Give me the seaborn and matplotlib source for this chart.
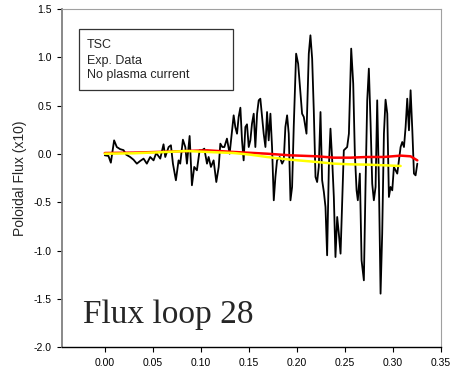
import numpy as np
import pandas as pd
import matplotlib
matplotlib.use("Agg")
import matplotlib.pyplot as plt
import seaborn as sns
from matplotlib.patches import Rectangle

# Experimental data (black)
exp_t = [0.0000, 0.0038, 0.0063, 0.0097, 0.0125, 0.0160, 0.0195, 0.0223, 0.0264, 0.0299,
         0.0334, 0.0369, 0.0404, 0.0438, 0.0473, 0.0508, 0.0536, 0.0578, 0.0612, 0.0630,
         0.0665, 0.0689, 0.0710, 0.0741, 0.0769, 0.0786, 0.0814, 0.0839, 0.0856, 0.0884,
         0.0908, 0.0932, 0.0960, 0.0988, 0.1013, 0.1037, 0.1065, 0.1082, 0.1106, 0.1134,
         0.1162, 0.1187, 0.1204, 0.1225, 0.1246, 0.1273, 0.1301, 0.1326, 0.1343, 0.1360,
         0.1378, 0.1395, 0.1413, 0.1430, 0.1447, 0.1465, 0.1482, 0.1500, 0.1517, 0.1534,
         0.1552, 0.1569, 0.1587, 0.1604, 0.1621, 0.1639, 0.1656, 0.1674, 0.1691, 0.1708,
         0.1726, 0.1743, 0.1761, 0.1778, 0.1795, 0.1823, 0.1848, 0.1865, 0.1882, 0.1900,
         0.1917, 0.1935, 0.1952, 0.1969, 0.1994, 0.2015, 0.2039, 0.2056, 0.2074, 0.2102,
         0.2126, 0.2143, 0.2161, 0.2178, 0.2196, 0.2213, 0.2230, 0.2248, 0.2265, 0.2283,
         0.2300, 0.2317, 0.2335, 0.2352, 0.2370, 0.2387, 0.2404, 0.2422, 0.2439, 0.2457,
         0.2474, 0.2491, 0.2526, 0.2544, 0.2568, 0.2589, 0.2606, 0.2624, 0.2637, 0.2658,
         0.2676, 0.2700, 0.2717, 0.2735, 0.2752, 0.2770, 0.2787, 0.2804, 0.2822, 0.2839,
         0.2857, 0.2874, 0.2891, 0.2909, 0.2926, 0.2944, 0.2961, 0.2978, 0.2996, 0.3013,
         0.3031, 0.3048, 0.3065, 0.3083, 0.3100, 0.3118, 0.3135, 0.3152, 0.3170, 0.3187,
         0.3205, 0.3222, 0.3239, 0.3257]
exp_flux = [-0.014, -0.020, -0.090, 0.141, 0.072, 0.050, 0.040, -0.007, -0.031, -0.059,
            -0.100, -0.072, -0.048, -0.100, -0.031, -0.066, 0.010, -0.048, 0.100, -0.031,
            0.072, 0.090, -0.100, -0.272, -0.066, -0.100, 0.148, 0.072, -0.100, 0.186,
            -0.324, -0.134, -0.169, 0.038, 0.038, 0.055, -0.100, -0.031, -0.134, -0.066,
            -0.290, -0.134, 0.107, 0.072, 0.072, 0.159, 0.003, 0.245, 0.400, 0.279,
            0.210, 0.383, 0.479, 0.141, -0.066, 0.279, 0.307, 0.072, 0.141, 0.314,
            0.417, 0.072, 0.417, 0.555, 0.572, 0.383, 0.210, 0.072, 0.434, 0.141,
            0.417, 0.072, -0.479, -0.238, -0.066, -0.031, -0.100, -0.066, 0.279, 0.400,
            0.210, -0.479, -0.341, 0.279, 1.038, 0.934, 0.624, 0.417, 0.383, 0.210,
            1.038, 1.228, 0.986, 0.452, -0.238, -0.290, -0.134, 0.434, -0.272, -0.393,
            -0.548, -1.048, -0.134, 0.262, -0.066, -0.445, -1.066, -0.652, -0.824, -1.031,
            -0.479, 0.038, 0.072, 0.210, 1.090, 0.728, 0.003, -0.376, -0.479, -0.203,
            -1.100, -1.307, -0.341, 0.555, 0.883, 0.314, -0.307, -0.479, -0.341, 0.555,
            -0.307, -1.445, -0.824, 0.210, 0.562, 0.417, -0.445, -0.341, -0.376, -0.134,
            -0.169, -0.203, -0.066, 0.072, 0.124, 0.072, 0.279, 0.572, 0.245, 0.659,
            0.245, -0.203, -0.221, -0.100]

# TSC simulation (red)
tsc_t = [0.0000, 0.0299, 0.0647, 0.1065, 0.1343, 0.1691, 0.1935, 0.2213, 0.2387, 0.2561,
         0.2735, 0.2909, 0.3083, 0.3187, 0.3257]
tsc_flux = [0.010, 0.014, 0.024, 0.038, 0.021, 0.003, -0.014, -0.024, -0.038, -0.038,
            -0.031, -0.031, -0.017, -0.024, -0.066]

# No plasma current (yellow)
nopl_t = [0.0000, 0.0299, 0.0647, 0.0856, 0.1065, 0.1343, 0.1517, 0.1691, 0.1935, 0.2213,
          0.2387, 0.2561, 0.2735, 0.2909, 0.3083]
nopl_flux = [0.003, 0.007, 0.021, 0.031, 0.021, 0.010, -0.007, -0.031, -0.059, -0.083,
             -0.100, -0.107, -0.110, -0.117, -0.124]

legend_lines = ["TSC", "Exp. Data", "No plasma current"]
x_ticks = [0.00, 0.05, 0.10, 0.15, 0.20, 0.25, 0.30, 0.35]
y_ticks = [-2.0, -1.5, -1.0, -0.5, 0.0, 0.5, 1.0, 1.5]

sns.set_style("white")
plt.rcParams['font.family'] = ['Liberation Sans', 'DejaVu Sans']

fig = plt.figure(figsize=(4.51, 3.72), dpi=100)
ax = fig.add_axes([0.1375, 0.0664, 0.8395, 0.9094])

df_exp = pd.DataFrame({"t": exp_t, "flux": exp_flux})
df_tsc = pd.DataFrame({"t": tsc_t, "flux": tsc_flux})
df_nopl = pd.DataFrame({"t": nopl_t, "flux": nopl_flux})

sns.lineplot(data=df_exp, x="t", y="flux", ax=ax, color="black", lw=1.3,
             sort=False, estimator=None)
sns.lineplot(data=df_tsc, x="t", y="flux", ax=ax, color="#ff0000", lw=1.8,
             sort=False, estimator=None)
sns.lineplot(data=df_nopl, x="t", y="flux", ax=ax, color="#ffff00", lw=1.8,
             sort=False, estimator=None)

ax.set_xlim(-0.0446, 0.35)
ax.set_ylim(-2.0, 1.5)
ax.set_xticks(x_ticks)
ax.set_xticklabels([f"{v:.2f}" for v in x_ticks])
ax.set_yticks(y_ticks)
ax.set_yticklabels([f"{v:.1f}" for v in y_ticks])
ax.set_xlabel("")
ax.set_ylabel("Poloidal Flux (x10)", fontsize=10, labelpad=5)
ax.tick_params(axis="both", direction="out", length=3.5, width=0.8,
               labelsize=7.5, colors="black", pad=4)
ax.tick_params(axis="both", bottom=True, left=True)

for side in ["top", "right"]:
    ax.spines[side].set_color("#a0a0a0")
    ax.spines[side].set_linewidth(0.8)
ax.spines["left"].set_color("#808080")
ax.spines["left"].set_linewidth(1.3)
ax.spines["bottom"].set_color("black")
ax.spines["bottom"].set_linewidth(1.0)

# legend-like text box
ax.add_patch(Rectangle((0.0449, 0.7606), 0.406, 0.1812, transform=ax.transAxes,
                       facecolor="white", edgecolor="#333333", lw=0.9, zorder=5))
for txt, yb in zip(legend_lines, [0.8856, 0.8374, 0.7960]):
    ax.text(0.066, yb, txt, transform=ax.transAxes, fontsize=9, va="baseline",
            ha="left", zorder=6)

ax.text(0.0547, 0.0727, "Flux loop 28", transform=ax.transAxes, fontsize=24,
        family=["Liberation Serif", "DejaVu Serif"], va="baseline", ha="left")

fig.savefig("out.png", dpi=100)
